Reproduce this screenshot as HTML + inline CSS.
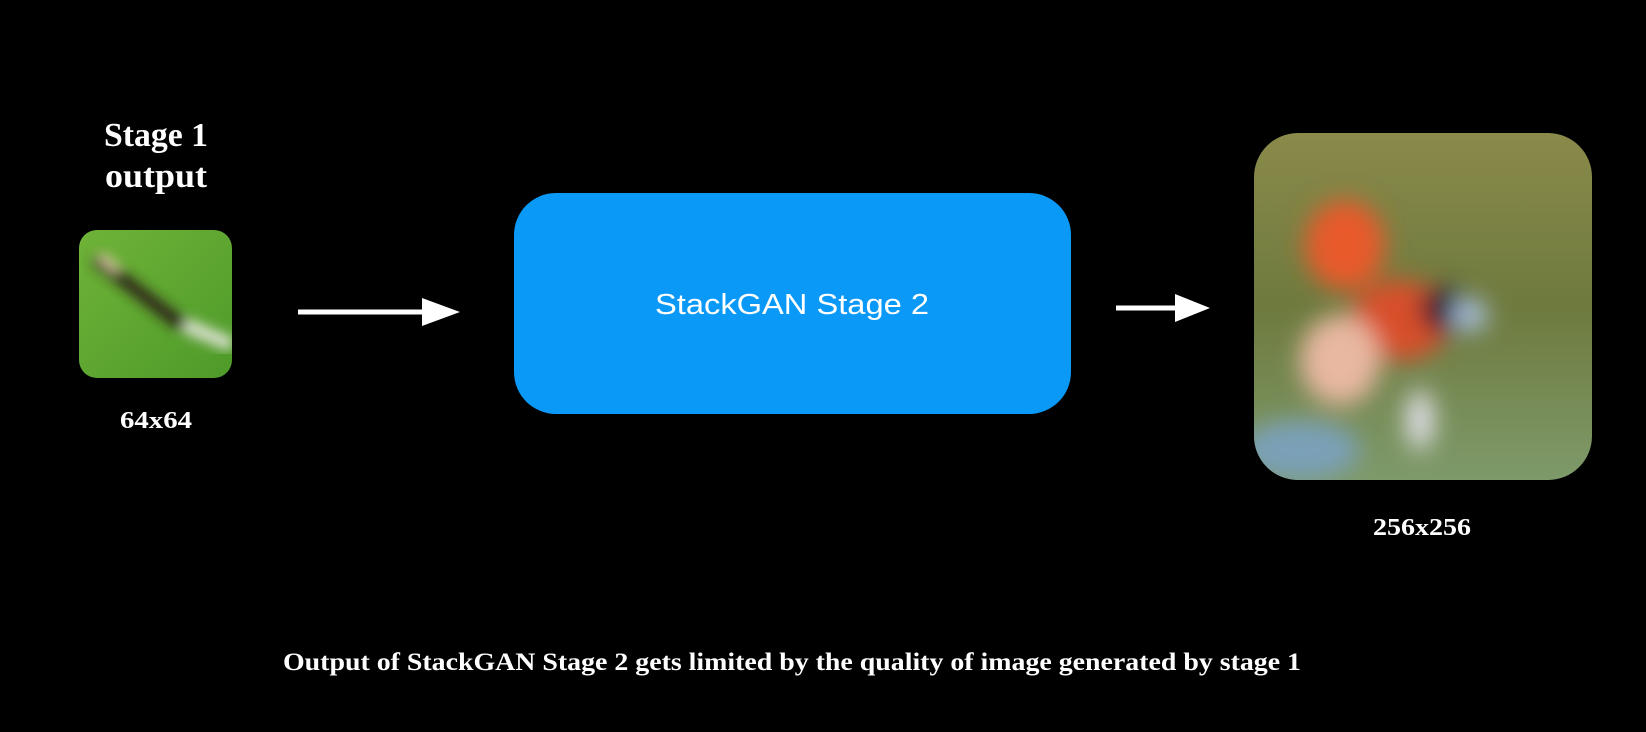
<!DOCTYPE html>
<html><head><meta charset="utf-8"><style>
html,body{margin:0;padding:0;background:#000;}
svg{display:block}
</style></head><body>
<svg width="1646" height="732" viewBox="0 0 1646 732" xmlns="http://www.w3.org/2000/svg">
<defs>
<clipPath id="c1"><rect x="79" y="230" width="153" height="148" rx="18"/></clipPath>
<clipPath id="c2"><rect x="1254" y="133" width="338" height="347" rx="44"/></clipPath>
<filter id="bl"><feGaussianBlur stdDeviation="6"/></filter>
<filter id="bl2"><feGaussianBlur stdDeviation="12"/></filter>
<linearGradient id="g1" x1="0" y1="0" x2="1" y2="1"><stop offset="0" stop-color="#6fb338"/><stop offset="1" stop-color="#4e9a2a"/></linearGradient>
<linearGradient id="g2" x1="0" y1="0" x2="0" y2="1"><stop offset="0" stop-color="#8a8a4a"/><stop offset="0.5" stop-color="#6e7a3e"/><stop offset="1" stop-color="#7e9a6a"/></linearGradient>
</defs>
<rect width="1646" height="732" fill="#000"/>
<g font-family="Liberation Serif, serif" font-weight="bold" fill="#fff" text-anchor="middle">
<text x="156" y="146" font-size="34" textLength="104" lengthAdjust="spacingAndGlyphs">Stage 1</text>
<text x="156" y="187" font-size="34" textLength="102" lengthAdjust="spacingAndGlyphs">output</text>
<text x="156" y="428" font-size="24" textLength="72" lengthAdjust="spacingAndGlyphs">64x64</text>
<text x="1422" y="535" font-size="24" textLength="98" lengthAdjust="spacingAndGlyphs">256x256</text>
<text x="792" y="670" font-size="25" textLength="1018" lengthAdjust="spacingAndGlyphs">Output of StackGAN Stage 2 gets limited by the quality of image generated by stage 1</text>
</g>
<g clip-path="url(#c1)">
<rect x="79" y="230" width="153" height="148" fill="url(#g1)"/>
<g filter="url(#bl)" opacity="0.9">
<path d="M95 258 L130 285 L175 320 L205 335" stroke="#2a1a18" stroke-width="14" fill="none"/>
<path d="M185 325 L232 345" stroke="#e8e8e0" stroke-width="14" fill="none"/>
<path d="M100 255 L118 270" stroke="#e8c8b0" stroke-width="8" fill="none"/>
</g>
</g>
<g clip-path="url(#c2)">
<rect x="1254" y="133" width="338" height="347" fill="url(#g2)"/>
<g filter="url(#bl2)">
<ellipse cx="1345" cy="245" rx="40" ry="45" fill="#e85a2a"/>
<ellipse cx="1400" cy="320" rx="50" ry="40" fill="#d8502a"/>
<ellipse cx="1340" cy="360" rx="40" ry="45" fill="#e8b8a0"/>
<ellipse cx="1445" cy="310" rx="25" ry="22" fill="#202030"/>
<ellipse cx="1470" cy="315" rx="18" ry="16" fill="#a8c0e0"/>
<ellipse cx="1300" cy="450" rx="60" ry="30" fill="#7aa0b8"/>
<ellipse cx="1420" cy="420" rx="14" ry="30" fill="#e0e0e8"/>
</g>
</g>
<line x1="298" y1="312" x2="425" y2="312" stroke="#fff" stroke-width="5"/>
<polygon points="422,298 460,312 422,326" fill="#fff"/>
<line x1="1116" y1="308" x2="1180" y2="308" stroke="#fff" stroke-width="5"/>
<polygon points="1175,294 1210,308 1175,322" fill="#fff"/>
<rect x="514" y="193" width="557" height="221" rx="42" fill="#0b99f7"/>
<text x="792" y="314" font-family="Liberation Sans, sans-serif" font-size="29" fill="#fff" text-anchor="middle" textLength="274" lengthAdjust="spacingAndGlyphs">StackGAN Stage 2</text>
</svg>
</body></html>
